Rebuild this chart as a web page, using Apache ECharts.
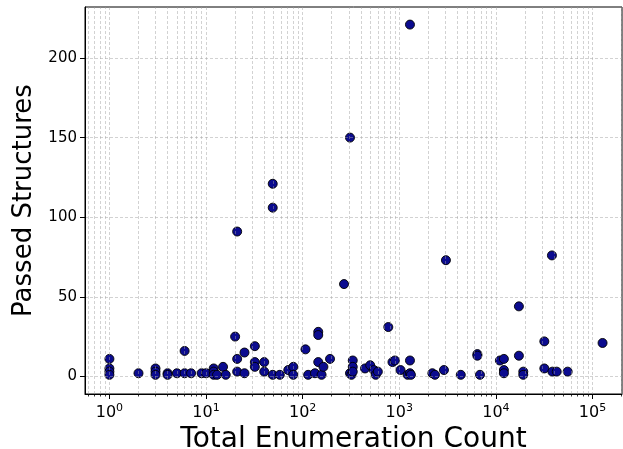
<!DOCTYPE html>
<html>
<head>
<meta charset="utf-8">
<script src="https://cdn.jsdelivr.net/npm/echarts@6/dist/echarts.min.js"></script>
<style>
  html, body { margin: 0; padding: 0; background: #fff; }
  #chart { width: 623px; height: 449px; }
</style>
</head>
<body>
<div id="chart"></div>
<script>
// Total enumeration count per run (x, log scale)
const enumCounts = [
  1, 1, 1, 1,
  2,
  3, 3, 3,
  4, 4,
  5,
  6, 6,
  7, 9, 10,
  12, 12, 12,
  13, 15, 16,
  20,
  21, 21, 21,
  25, 25,
  32, 32, 32,
  40, 40,
  49, 49, 49,
  58, 71, 80, 80,
  107, 114, 134,
  145, 145, 145,
  157, 164, 192,
  268,
  309, 309, 320,
  330, 330, 330,
  442, 500, 545, 570, 600,
  770, 850, 900, 1030, 1220,
  1290, 1290, 1290, 1320,
  2200, 2340, 2900, 3040, 4330,
  6430, 6430, 6840,
  11000,
  12100, 12100, 12100,
  17300, 17300,
  19200, 19200,
  31700, 31700,
  38000, 38400, 42600, 55300,
  127000
];

// Number of structures that passed for each run (y)
const passedCounts = [
  11, 5, 3, 1,
  2,
  5, 3, 1,
  2, 1,
  2,
  16, 2,
  2, 2, 2,
  5, 3, 1,
  1, 6, 1,
  25,
  91, 11, 3,
  15, 2,
  19, 9, 6,
  9, 3,
  121, 106, 1,
  1, 4, 6, 1,
  17, 1, 2,
  28, 26, 9,
  1, 6, 11,
  58,
  150, 2, 1,
  10, 6, 3,
  5, 7, 4, 1, 3,
  31, 9, 10, 4, 1,
  221, 10, 2, 1,
  2, 1, 4, 73, 1,
  14, 13, 1,
  10,
  11, 4, 2,
  44, 13,
  3, 1,
  22, 5,
  76, 3, 3, 3,
  21
];

// Axis ticks
const xMajorTicks = [1, 10, 100, 1000, 10000, 100000];
const yTicks = [0, 50, 100, 150, 200];

// Axis extents (decades padded on both sides, linear padding on y)
const xMin = Math.pow(10, -0.2526);
const xMax = Math.pow(10, 5.305);
const yMin = -11.05;
const yMax = 232.05;

// Minor log ticks 2..9 per decade inside the extent
const xMinorTicks = [];
for (let e = -1; e <= 5; e++) {
  for (let m = 2; m <= 9; m++) {
    const v = m * Math.pow(10, e);
    if (v > xMin && v < xMax) xMinorTicks.push(v);
  }
}

const points = enumCounts.map((x, i) => [x, passedCounts[i]]);

const FONT = 'DejaVu Sans';
const gridLine = { color: 'rgba(160,160,160,0.6)', width: 0.8, type: [3, 2] };

const chart = echarts.init(document.getElementById('chart'), null, { renderer: 'canvas' });

chart.setOption({
  animation: false,
  backgroundColor: '#ffffff',
  grid: {
    left: 85, right: 1, top: 7, bottom: 55,
    outerBoundsMode: 'none',
    containLabel: false,
    show: true, borderColor: '#000', borderWidth: 1, backgroundColor: 'transparent'
  },
  xAxis: [{
    type: 'log',
    logBase: 10,
    min: xMin,
    max: xMax,
    z: 3,
    name: 'Total Enumeration Count',
    nameLocation: 'middle',
    nameGap: 30,
    nameTextStyle: { fontFamily: FONT, fontSize: 28, color: '#000' },
    axisLine: { show: true, onZero: false, lineStyle: { color: '#000', width: 1 } },
    axisTick: { show: true, inside: false, length: 5, customValues: xMajorTicks,
                lineStyle: { color: '#000', width: 1 } },
    axisLabel: {
      customValues: xMajorTicks,
      margin: 9,
      color: '#000',
      fontFamily: FONT,
      formatter: function (v) {
        return '{b|10}{s|' + Math.round(Math.log10(v)) + '}';
      },
      rich: {
        b: { fontFamily: FONT, fontSize: 16, color: '#000', lineHeight: 20 },
        s: { fontFamily: FONT, fontSize: 11, color: '#000', verticalAlign: 'top', lineHeight: 11 }
      }
    },
    splitLine: { show: true, lineStyle: gridLine }
  }, {
    // minor ticks of the log axis
    type: 'log',
    logBase: 10,
    min: xMin,
    max: xMax,
    z: 3,
    position: 'bottom',
    axisLine: { show: false, onZero: false },
    axisTick: { show: true, inside: false, length: 2.5, customValues: xMinorTicks,
                lineStyle: { color: '#000', width: 0.8 } },
    axisLabel: { show: false },
    splitLine: { show: false }
  }],
  yAxis: {
    type: 'value',
    min: yMin,
    max: yMax,
    z: 3,
    name: 'Passed Structures',
    nameLocation: 'middle',
    nameGap: 39,
    nameTextStyle: { fontFamily: FONT, fontSize: 26, color: '#000' },
    axisLine: { show: true, onZero: false, lineStyle: { color: '#000', width: 1 } },
    axisTick: { show: true, inside: false, length: 5, customValues: yTicks,
                lineStyle: { color: '#000', width: 1 } },
    axisLabel: { customValues: yTicks, margin: 8, color: '#000', fontFamily: FONT, fontSize: 15 },
    splitLine: { show: true, lineStyle: gridLine }
  },
  series: [{
    type: 'scatter',
    xAxisIndex: 0,
    yAxisIndex: 0,
    data: points,
    symbol: 'circle',
    symbolSize: 9,
    itemStyle: { color: '#0b0b8f', borderColor: '#000', borderWidth: 0.9, opacity: 1 },
    markLine: {
      silent: true,
      symbol: 'none',
      label: { show: false },
      lineStyle: gridLine,
      data: xMinorTicks.map(v => ({ xAxis: v }))
    }
  }]
});
</script>
</body>
</html>
